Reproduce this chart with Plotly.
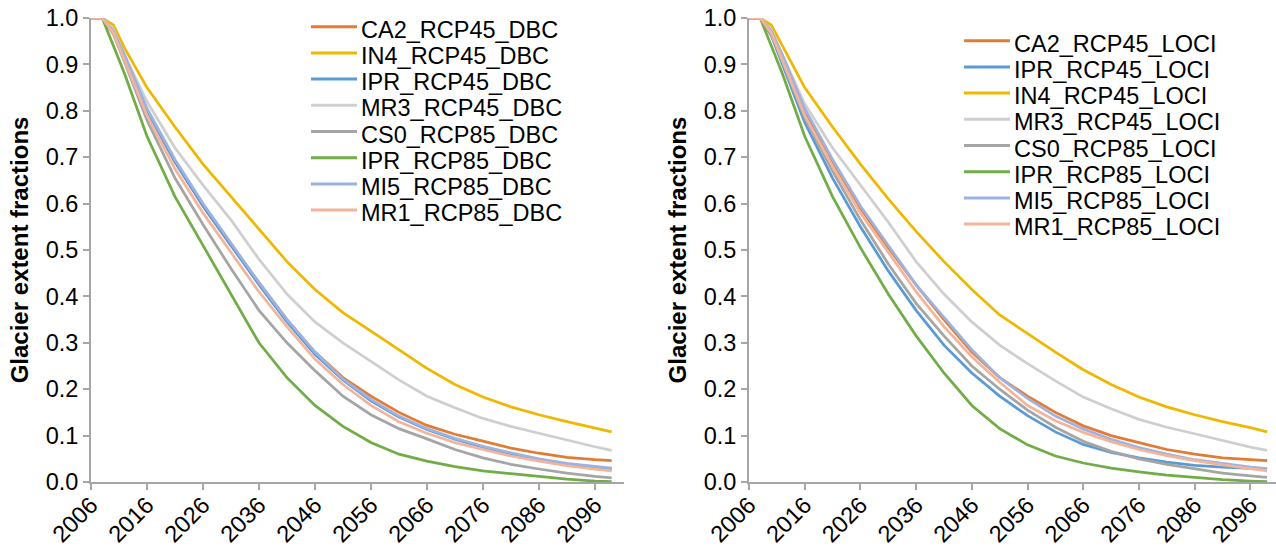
import plotly.graph_objects as go

W, H = 1276, 553
ML, MR, MT, MB = 0, 0, 18, 71

years = [2006, 2008, 2010, 2012, 2016, 2021, 2026, 2031, 2036, 2041, 2046,
         2051, 2056, 2061, 2066, 2071, 2076, 2081, 2086, 2091, 2096, 2099]

# ---- DBC (left panel) ----
dbc_names = ["CA2_RCP45_DBC", "IN4_RCP45_DBC", "IPR_RCP45_DBC", "MR3_RCP45_DBC",
             "CS0_RCP85_DBC", "IPR_RCP85_DBC", "MI5_RCP85_DBC", "MR1_RCP85_DBC"]
dbc_ca2 = [1, 1, 0.97, 0.915, 0.80, 0.69, 0.595, 0.51, 0.43, 0.35, 0.28, 0.225, 0.185, 0.15, 0.122, 0.103, 0.088, 0.073, 0.062, 0.053, 0.048, 0.046]
dbc_in4 = [1, 1, 0.985, 0.935, 0.85, 0.765, 0.685, 0.615, 0.545, 0.475, 0.415, 0.365, 0.325, 0.285, 0.245, 0.21, 0.183, 0.162, 0.145, 0.13, 0.117, 0.108]
dbc_ipr45 = [1, 1, 0.97, 0.915, 0.80, 0.69, 0.595, 0.51, 0.425, 0.345, 0.275, 0.22, 0.175, 0.14, 0.113, 0.092, 0.075, 0.061, 0.048, 0.038, 0.031, 0.028]
dbc_mr3 = [1, 1, 0.975, 0.92, 0.82, 0.72, 0.64, 0.565, 0.48, 0.405, 0.345, 0.30, 0.26, 0.22, 0.185, 0.16, 0.137, 0.12, 0.105, 0.09, 0.076, 0.068]
dbc_cs0 = [1, 1, 0.965, 0.905, 0.78, 0.655, 0.555, 0.46, 0.37, 0.30, 0.24, 0.185, 0.145, 0.115, 0.093, 0.07, 0.052, 0.038, 0.028, 0.019, 0.012, 0.009]
dbc_ipr85 = [1, 1, 0.94, 0.88, 0.745, 0.615, 0.51, 0.405, 0.30, 0.225, 0.165, 0.12, 0.085, 0.06, 0.045, 0.033, 0.024, 0.018, 0.012, 0.006, 0.002, 0.001]
dbc_mi5 = [1, 1, 0.972, 0.92, 0.805, 0.695, 0.60, 0.515, 0.43, 0.35, 0.28, 0.222, 0.178, 0.142, 0.115, 0.094, 0.077, 0.063, 0.05, 0.04, 0.033, 0.030]
dbc_mr1 = [1, 1, 0.968, 0.91, 0.79, 0.675, 0.58, 0.495, 0.41, 0.335, 0.265, 0.21, 0.165, 0.13, 0.105, 0.085, 0.07, 0.056, 0.045, 0.035, 0.028, 0.024]
dbc_values = [dbc_ca2, dbc_in4, dbc_ipr45, dbc_mr3, dbc_cs0, dbc_ipr85, dbc_mi5, dbc_mr1]

# ---- LOCI (right panel) ----
loci_names = ["CA2_RCP45_LOCI", "IPR_RCP45_LOCI", "IN4_RCP45_LOCI", "MR3_RCP45_LOCI",
              "CS0_RCP85_LOCI", "IPR_RCP85_LOCI", "MI5_RCP85_LOCI", "MR1_RCP85_LOCI"]
loci_ca2 = [1, 1, 0.97, 0.915, 0.80, 0.69, 0.59, 0.505, 0.425, 0.35, 0.28, 0.225, 0.185, 0.15, 0.121, 0.1, 0.085, 0.07, 0.06, 0.052, 0.048, 0.046]
loci_ipr45 = [1, 1, 0.962, 0.9, 0.775, 0.655, 0.55, 0.455, 0.37, 0.295, 0.235, 0.185, 0.143, 0.108, 0.081, 0.064, 0.052, 0.043, 0.036, 0.032, 0.029, 0.028]
loci_in4 = [1, 1, 0.985, 0.94, 0.85, 0.765, 0.685, 0.61, 0.54, 0.475, 0.415, 0.36, 0.32, 0.28, 0.242, 0.21, 0.183, 0.162, 0.145, 0.13, 0.117, 0.108]
loci_mr3 = [1, 1, 0.975, 0.92, 0.815, 0.72, 0.64, 0.56, 0.475, 0.405, 0.345, 0.295, 0.255, 0.218, 0.183, 0.158, 0.135, 0.118, 0.104, 0.089, 0.075, 0.068]
loci_cs0 = [1, 1, 0.965, 0.905, 0.785, 0.67, 0.565, 0.47, 0.385, 0.315, 0.25, 0.2, 0.155, 0.118, 0.088, 0.066, 0.05, 0.038, 0.028, 0.019, 0.013, 0.01]
loci_ipr85 = [1, 1, 0.94, 0.88, 0.745, 0.615, 0.505, 0.405, 0.315, 0.235, 0.165, 0.115, 0.08, 0.056, 0.041, 0.03, 0.022, 0.015, 0.01, 0.005, 0.002, 0.001]
loci_mi5 = [1, 1, 0.972, 0.92, 0.805, 0.695, 0.595, 0.51, 0.425, 0.355, 0.285, 0.225, 0.18, 0.142, 0.114, 0.092, 0.074, 0.06, 0.048, 0.04, 0.032, 0.029]
loci_mr1 = [1, 1, 0.968, 0.91, 0.79, 0.68, 0.58, 0.495, 0.41, 0.335, 0.27, 0.215, 0.165, 0.132, 0.107, 0.087, 0.07, 0.057, 0.046, 0.037, 0.028, 0.024]
loci_values = [loci_ca2, loci_ipr45, loci_in4, loci_mr3, loci_cs0, loci_ipr85, loci_mi5, loci_mr1]

C_CA2, C_IN4, C_IPR45, C_MR3 = "#E47B32", "#EFB700", "#5B9BD5", "#CFCFCF"
C_CS0, C_IPR85, C_MI5, C_MR1 = "#A5A5A5", "#70AD47", "#9CB3E2", "#F4B49A"
dbc_colors = [C_CA2, C_IN4, C_IPR45, C_MR3, C_CS0, C_IPR85, C_MI5, C_MR1]
loci_colors = [C_CA2, C_IPR45, C_IN4, C_MR3, C_CS0, C_IPR85, C_MI5, C_MR1]

tick_years = list(range(2006, 2097, 10))
y_ticks = [round(i * 0.1, 1) for i in range(11)]

FONT = "Liberation Sans, Arial, sans-serif"
AX = "#A6A6A6"
FS = 23.5

fig = go.Figure()
for names, vals, cols, xa, ya in [(dbc_names, dbc_values, dbc_colors, "x", "y"),
                                   (loci_names, loci_values, loci_colors, "x2", "y2")]:
    for n, v, c in zip(names, vals, cols):
        fig.add_trace(go.Scatter(x=years, y=v, name=n, mode="lines",
                                 line=dict(color=c, width=2.75),
                                 xaxis=xa, yaxis=ya, showlegend=False))

def px_x(p):
    return (p - ML) / (W - ML - MR)

def px_y(p):
    return (H - MB - p) / (H - MT - MB)

xcommon = dict(tickmode="array", tickvals=tick_years, ticktext=[str(t) for t in tick_years],
               tickangle=-45, ticks="outside", ticklen=6, tickwidth=2, tickcolor=AX,
               showline=True, linecolor=AX, linewidth=2, showgrid=False, zeroline=False,
               automargin=False, ticklabelstandoff=-8,
               tickfont=dict(family=FONT, size=FS, color="#000"))
ycommon = dict(range=[0, 1.0], tickmode="array", tickvals=y_ticks, tickformat=".1f",
               ticks="outside", ticklen=6, tickwidth=2, tickcolor=AX,
               showline=True, linecolor=AX, linewidth=2, showgrid=False, zeroline=False,
               automargin=False,
               tickfont=dict(family=FONT, size=FS, color="#000"),
               title=dict(text="<b>Glacier extent fractions</b>", standoff=10,
                          font=dict(family=FONT, size=24, color="#000")))

fig.update_layout(
    width=W, height=H, margin=dict(l=ML, r=MR, t=MT, b=MB, autoexpand=False),
    paper_bgcolor="white", plot_bgcolor="white",
    xaxis=dict(domain=[px_x(91), px_x(624)], range=[2006, 2101.2], anchor="y", **xcommon),
    yaxis=dict(domain=[0, 1], anchor="x", **ycommon),
    xaxis2=dict(domain=[px_x(749), 1.0], range=[2006, 2100.6], anchor="y2", **xcommon),
    yaxis2=dict(domain=[0, 1], anchor="x2", **ycommon),
)

# legends drawn as line samples + text, built from the series lists
shapes, annots = [], []
for names, cols, x0, y0 in [(dbc_names, dbc_colors, 311, 26.7), (loci_names, loci_colors, 964, 40.7)]:
    for i, (n, c) in enumerate(zip(names, cols)):
        yy = y0 + 26.2 * i
        shapes.append(dict(type="line", xref="paper", yref="paper",
                           x0=px_x(x0), x1=px_x(x0 + 46), y0=px_y(yy), y1=px_y(yy),
                           line=dict(color=c, width=3)))
        annots.append(dict(xref="paper", yref="paper", x=px_x(x0 + 48), y=px_y(yy + 3),
                           xanchor="left", yanchor="middle", text=n, showarrow=False,
                           font=dict(family=FONT, size=FS, color="#000")))
fig.update_layout(shapes=shapes, annotations=annots)

fig.write_html("out.html")
